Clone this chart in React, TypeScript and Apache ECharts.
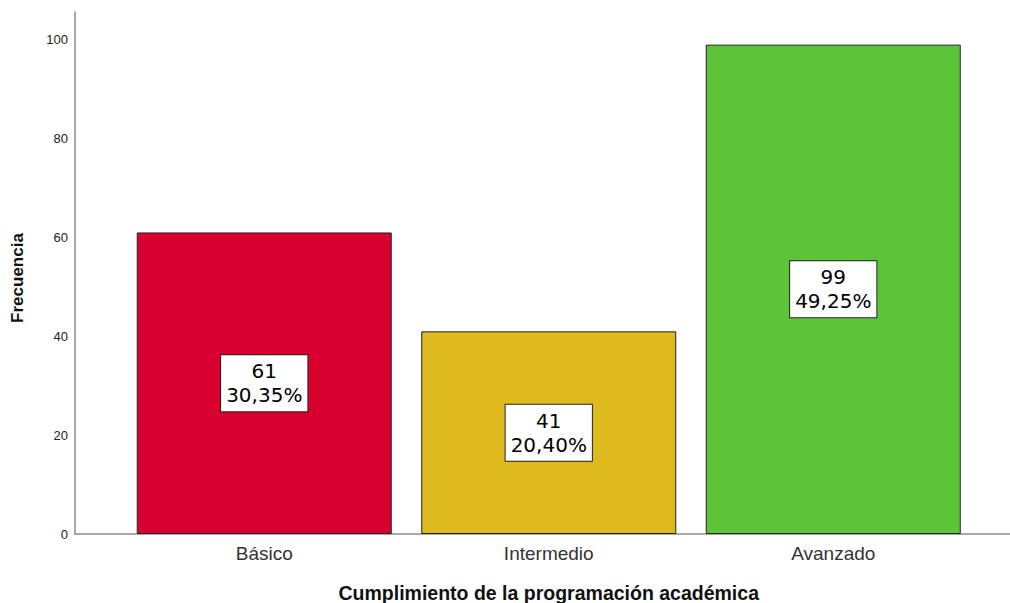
import React, { useEffect, useRef } from "react";
import * as echarts from "echarts";

const categories = ["Básico", "Intermedio", "Avanzado"];
const frequencies = [61, 41, 99];
const percents = ["30,35%", "20,40%", "49,25%"];
const barColors = ["#D7002F", "#DFBA1F", "#5DC43A"];
const yTicks = [0, 20, 40, 60, 80, 100];

export default function App() {
  const ref = useRef<HTMLDivElement>(null);
  useEffect(() => {
    if (!ref.current) return;
    const chart = echarts.init(ref.current, undefined, { renderer: "svg" });
    const yMax = 105.6;
    chart.setOption({
      animation: false,
      backgroundColor: "#ffffff",
      textStyle: { fontFamily: "Liberation Sans, Arial, sans-serif" },
      grid: [
        { left: 75, right: 0, top: 12, bottom: 69, containLabel: false, outerBoundsMode: "none" },
        { left: 122, right: 34.5, top: 12, bottom: 69, containLabel: false, outerBoundsMode: "none" },
      ],
      xAxis: [
        {
          type: "value",
          gridIndex: 0,
          min: 0,
          max: 1,
          axisLine: { show: true, lineStyle: { color: "#8c8c8c", width: 1.5 } },
          axisTick: { show: false },
          axisLabel: { show: false },
          splitLine: { show: false },
        },
        {
          type: "category",
          gridIndex: 1,
          data: categories,
          axisLine: { show: false },
          axisTick: { show: false },
          axisLabel: { color: "#333", fontSize: 19, margin: 10 },
          name: "Cumplimiento de la programación académica",
          nameLocation: "middle",
          nameGap: 49,
          nameTextStyle: { color: "#111", fontSize: 19.5, fontWeight: "bold" },
        },
      ],
      yAxis: [
        {
          type: "value",
          gridIndex: 0,
          min: 0,
          max: yMax,
          interval: 20,
          axisLine: { show: true, lineStyle: { color: "#8c8c8c", width: 1.5 } },
          axisTick: { show: false },
          splitLine: { show: false },
          axisLabel: {
            color: "#222",
            fontSize: 13,
            margin: 7,
            showMaxLabel: false,
            formatter: (v: number) => (yTicks.includes(v) ? String(v) : ""),
          },
          name: "Frecuencia",
          nameLocation: "middle",
          nameGap: 49,
          nameTextStyle: { color: "#111", fontSize: 17, fontWeight: "bold", padding: [0, 0, 0, -10] },
        },
        {
          type: "value",
          gridIndex: 1,
          min: 0,
          max: yMax,
          show: false,
        },
      ],
      series: [
        {
          type: "bar",
          xAxisIndex: 1,
          yAxisIndex: 1,
          barWidth: 255,
          data: frequencies.map((v, i) => ({
            value: v,
            itemStyle: { color: barColors[i], borderColor: "#222", borderWidth: 1 },
          })),
          label: {
            show: true,
            position: "inside",
            formatter: (p: any) => `${p.value}\n${percents[p.dataIndex]}`,
            color: "#000",
            fontFamily: "DejaVu Sans, sans-serif",
            fontSize: 20,
            lineHeight: 24,
            backgroundColor: "#ffffff",
            borderColor: "#222",
            borderWidth: 1,
            padding: [4, 5, 4, 5],
            align: "center",
          },
        },
      ],
    });
    return () => chart.dispose();
  }, []);
  return <div ref={ref} style={{ position: "fixed", left: 0, top: 0, width: 1010, height: 603 }} />;
}
